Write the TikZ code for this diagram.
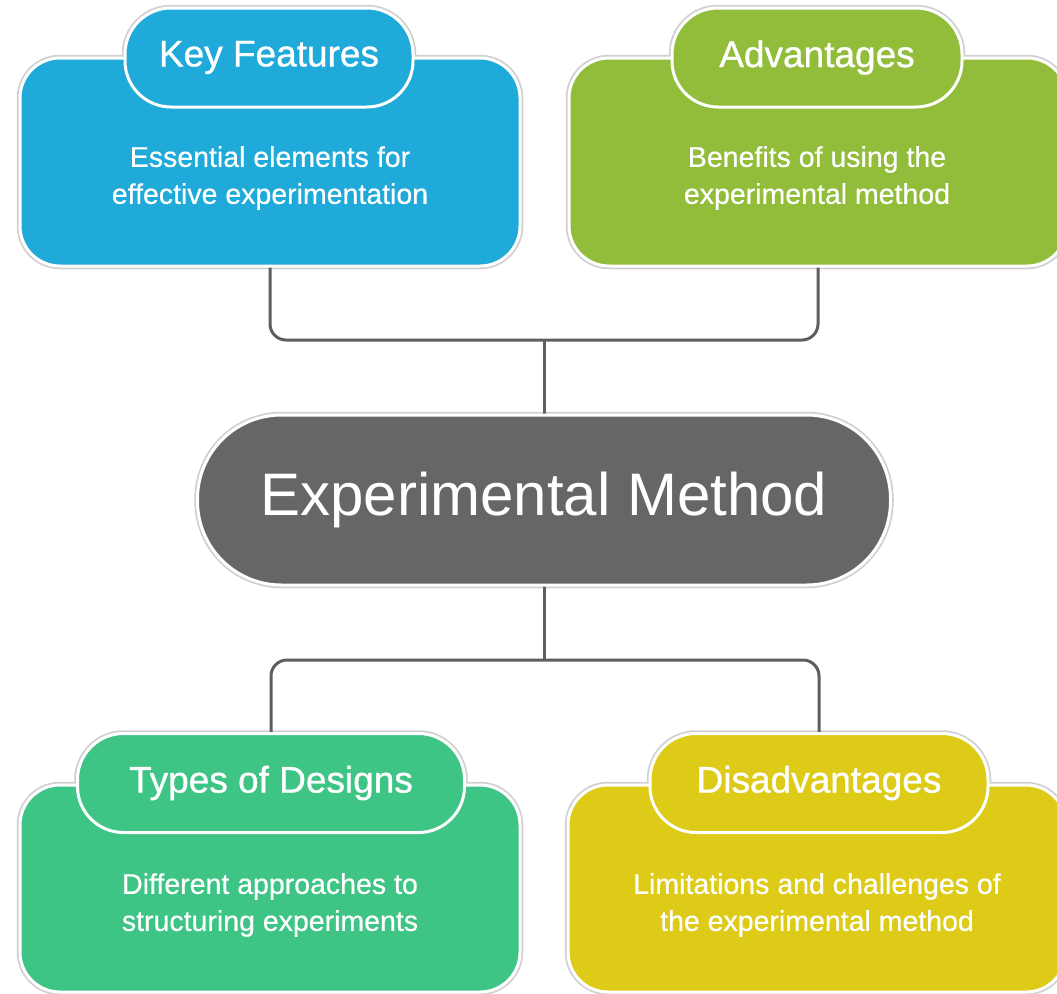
\documentclass[tikz,border=0pt]{standalone}
\usepackage{fontspec}
\setmainfont{Liberation Sans}
\newfontfamily\titlefont[FakeBold=0.9]{Liberation Sans}
\newfontfamily\bodyfont[FakeBold=0.5]{Liberation Sans}
\usetikzlibrary{positioning}
\pgfdeclarelayer{bg}
\pgfsetlayers{bg,main}
\definecolor{cblue}{HTML}{1FAAD9}
\definecolor{cgreen}{HTML}{92BD3A}
\definecolor{cgray}{HTML}{666666}
\definecolor{cteal}{HTML}{3EC585}
\definecolor{cyellow}{HTML}{DDCB17}
\definecolor{cline}{HTML}{5E5E5E}
\definecolor{cshadow}{HTML}{D0D0D0}
\tikzset{
  mainbox/.style={rectangle, rounded corners=40pt, draw=white, line width=3pt, outer sep=0pt, inner sep=0pt},
  titlepill/.style={rectangle, rounded corners=46pt, draw=white, line width=3pt, outer sep=0pt, inner sep=0pt,
     minimum height=99pt, text=white, font=\titlefont\fontsize{37}{40}\selectfont},
  bodytext/.style={align=center, text=white, font=\bodyfont\fontsize{28.5}{37}\selectfont, inner sep=0pt},
  centerpill/.style={rectangle, rounded corners=84pt, draw=white, line width=3pt, outer sep=0pt, inner sep=0pt,
     minimum width=693pt, minimum height=170pt, fill=cgray, text=white, font=\fontsize{60}{64}\selectfont},
  shadowline/.style={draw=cshadow, line width=6.5pt},
  conn/.style={draw=cline, line width=3pt, rounded corners=16pt}
}
\begin{document}
\begin{tikzpicture}[x=1pt,y=-1pt]
\useasboundingbox (0,0) rectangle (1057,993);
\clip (0,0) rectangle (1057,993);
% boxes
\node[mainbox, fill=cblue, minimum width=500pt, minimum height=208pt] (kfbox) at (270,162) {};
\node[titlepill, fill=cblue, minimum width=288pt] (kft) at (269,57.5) {Key Features};
\node[bodytext] (kfb) at (270,178) {Essential elements for\\effective experimentation};

\node[mainbox, fill=cgreen, minimum width=498pt, minimum height=208pt] (advbox) at (818,162) {};
\node[titlepill, fill=cgreen, minimum width=290pt] (advt) at (817,57.5) {Advantages};
\node[bodytext] (advb) at (817,178) {Benefits of using the\\experimental method};

\node[centerpill] (em) at (544,500) {Experimental Method};

\node[mainbox, fill=cteal, minimum width=500pt, minimum height=207pt] (tdbox) at (270,888.5) {};
\node[titlepill, fill=cteal, minimum width=387pt] (tdt) at (271,783) {Types of Designs};
\node[bodytext] (tdb) at (270,905) {Different approaches to\\structuring experiments};

\node[mainbox, fill=cyellow, minimum width=498pt, minimum height=207pt] (disbox) at (817,888.5) {};
\node[titlepill, fill=cyellow, minimum width=338pt] (dist) at (819,783) {Disadvantages};
\node[bodytext] (disb) at (817,905) {Limitations and challenges of\\the experimental method};

\coordinate (j1) at (544,340);
\coordinate (j2) at (544,660);

\begin{pgfonlayer}{bg}
  \foreach \n/\r in {kfbox/40,kft/46,advbox/40,advt/46,tdbox/40,tdt/46,disbox/40,dist/46,em/84}{
    \draw[shadowline, rounded corners=\r pt] (\n.south west) rectangle (\n.north east);
  }
  \draw[conn] (kfbox.south) |- (j1) -| (advbox.south);
  \draw[conn] (em.north) -- (j1);
  \draw[conn] (em.south) -- (j2);
  \draw[conn] (tdt.north) |- (j2) -| (dist.north);
\end{pgfonlayer}
\end{tikzpicture}
\end{document}
